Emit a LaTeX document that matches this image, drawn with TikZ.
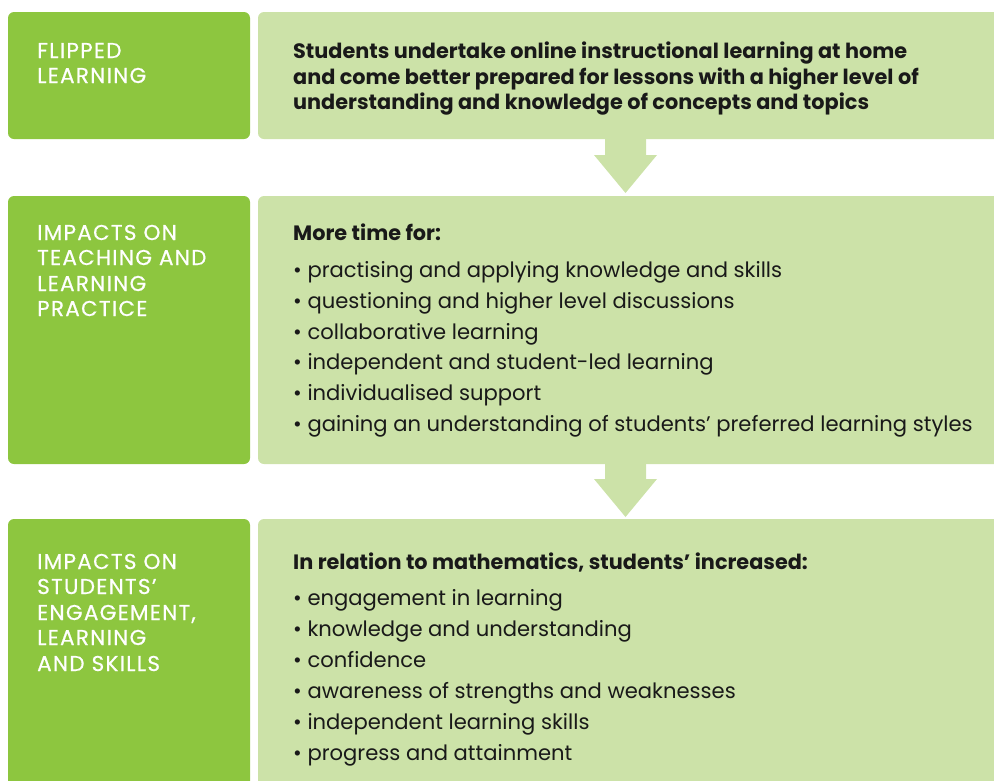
\documentclass[tikz,border=0pt]{standalone}
\usepackage{fontspec}
\setmainfont{Poppins}
\newfontfamily\leftfont{Poppins}[LetterSpace=6,FakeBold=0.6]
\definecolor{dkgreen}{HTML}{8DC63F}
\definecolor{ltgreen}{HTML}{CCE2A8}
\begin{document}
\begin{tikzpicture}[x=1pt,y=-1pt,
  lbox/.style={fill=dkgreen,rounded corners=6pt},
  rbox/.style={fill=ltgreen,rounded corners=6pt},
  flowarrow/.style={fill=ltgreen},
  lefttxt/.style={anchor=base west,inner sep=0pt,text=white,font=\leftfont\fontsize{21.5}{25}\selectfont},
  headtxt/.style={anchor=base west,inner sep=0pt,text=black!90,font=\fontsize{20.8}{25}\selectfont\bfseries},
  itemtxt/.style={anchor=base west,inner sep=0pt,text=black!90,font=\fontsize{21.1}{25}\selectfont}]
\useasboundingbox (0,0) rectangle (994,780);
\clip (0,0) rectangle (994,780);
% boxes
\fill[lbox] (8,12) rectangle (250,139);
\fill[rbox] (258,12) rectangle (1010,139);
\fill[lbox] (8,196) rectangle (250,464);
\fill[rbox] (258,196) rectangle (1010,464);
\fill[lbox] (8,519) rectangle (250,800);
\fill[rbox] (258,519) rectangle (1010,800);
% arrows
\fill[flowarrow] (605,138) -- (646,138) -- (646,155) -- (657,155) -- (625.5,193) -- (594,155) -- (605,155) -- cycle;
\fill[flowarrow] (605,463) -- (646,463) -- (646,479) -- (657,479) -- (625.5,517) -- (594,479) -- (605,479) -- cycle;
% left texts
\node[lefttxt] (l1a) at (37,58) {FLIPPED};
\node[lefttxt] (l1b) at (37,83) {LEARNING};
\node[lefttxt] (l2a) at (37,240) {IMPACTS ON};
\node[lefttxt] (l2b) at (37,265) {TEACHING AND};
\node[lefttxt] (l2c) at (37,291) {LEARNING};
\node[lefttxt] (l2d) at (37,316) {PRACTICE};
\node[lefttxt] (l3a) at (37,569) {IMPACTS ON};
\node[lefttxt] (l3b) at (37,594) {STUDENTS’};
\node[lefttxt] (l3c) at (37,620) {ENGAGEMENT,};
\node[lefttxt] (l3d) at (37,645) {LEARNING};
\node[lefttxt] (l3e) at (37,671) {AND SKILLS};
% box 1 text
\node[headtxt] (r1a) at (293,58) {Students undertake online instructional learning at home};
\node[headtxt] (r1b) at (293,84) {and come better prepared for lessons with a higher level of};
\node[headtxt] (r1c) at (293,109) {understanding and knowledge of concepts and topics};
% box 2 text
\node[headtxt] (r2h) at (293,240) {More time for:};
\node[itemtxt] (r2a) at (293,277) {• practising and applying knowledge and skills};
\node[itemtxt] (r2b) at (293,308) {• questioning and higher level discussions};
\node[itemtxt] (r2c) at (293,339) {• collaborative learning};
\node[itemtxt] (r2d) at (293,369) {• independent and student-led learning};
\node[itemtxt] (r2e) at (293,400) {• individualised support};
\node[itemtxt] (r2f) at (293,431) {• gaining an understanding of students’ preferred learning styles};
% box 3 text
\node[headtxt] (r3h) at (293,569) {In relation to mathematics, students’ increased:};
\node[itemtxt] (r3a) at (293,605) {• engagement in learning};
\node[itemtxt] (r3b) at (293,636) {• knowledge and understanding};
\node[itemtxt] (r3c) at (293,667) {• confidence};
\node[itemtxt] (r3d) at (293,698) {• awareness of strengths and weaknesses};
\node[itemtxt] (r3e) at (293,729) {• independent learning skills};
\node[itemtxt] (r3f) at (293,760) {• progress and attainment};
\end{tikzpicture}
\end{document}
